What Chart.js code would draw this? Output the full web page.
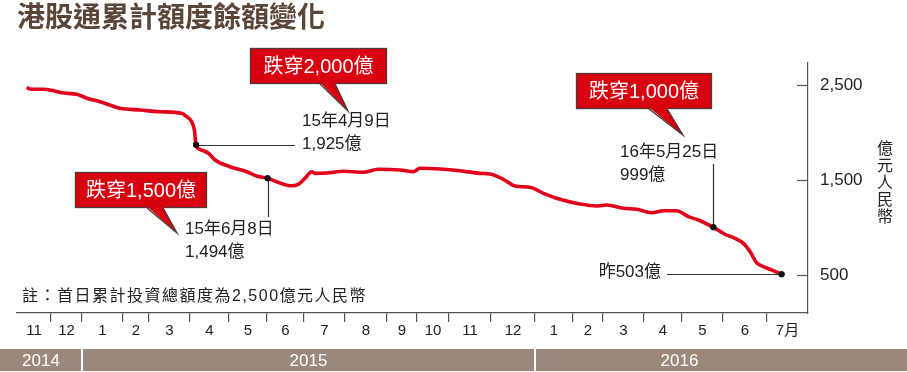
<!DOCTYPE html>
<html><head><meta charset="utf-8">
<script src="https://cdn.jsdelivr.net/npm/chart.js@4/dist/chart.umd.min.js"></script>
<style>html,body{margin:0;padding:0;background:#fff;}#wrap{width:907px;height:372px;position:relative;}</style>
</head><body><div id="wrap"><canvas id="c" width="907" height="372"></canvas></div>
<script>
// ---------- data ----------
const chartTitle = '港股通累計額度餘額變化';
const monthLabels = ['11','12','1','2','3','4','5','6','7','8','9','10','11','12','1','2','3','4','5','6','7月'];
// trading-day index of each month start (first = axis start, last = axis end)
const monthBounds = [0,17,32.5,53,66,86.5,106,125,143.5,164,185,200,216,237,259,278,293,313.5,332.5,353,375,395.5];
const yearLabels = ['2014','2015','2016'];
const yearStarts = [0,32.5,259];
const dayIdx = [4.8,7.3,13.2,17.3,22.3,29.8,35.7,41.5,51.5,61.5,71.5,82.3,84.8,87.3,88.7,89.5,91.5,95.7,99,106.5,114.8,119.8,125.3,129.8,136.5,140.7,144,147.3,149,158.2,163.2,173.2,180.7,191.5,198.2,201.5,211.5,221.5,231.5,236.5,243.2,249,256.5,263.2,271.5,281.5,289.8,294.8,303.2,309.8,317.3,323.2,329.8,335.7,340.7,348.2,354,359,363.2,366.5,369.8,373.2,377.3,382.3];
const balance = [2472,2455,2455,2444,2419,2402,2356,2324,2255,2237,2219,2202,2167,2114,2026,1872,1823,1781,1711,1640,1587,1542,1518,1482,1440,1455,1518,1587,1570,1581,1592,1581,1613,1605,1587,1623,1616,1598,1570,1563,1507,1437,1423,1360,1297,1247,1226,1237,1202,1192,1156,1177,1177,1114,1079,1002,929,886,833,746,630,588,553,507];
const yTicks = [500,1500,2500];
const markedIdx = [15,22,55,63];
const yAxisTitle = ['億','元','人','民','幣'];
const noteText = '註：首日累計投資總額度為2,500億元人民幣';
const calloutTexts = ['跌穿2,000億','跌穿1,500億','跌穿1,000億'];
const annoTexts = [['15年4月9日','1,925億'],['15年6月8日','1,494億'],['16年5月25日','999億'],['昨503億']];

// ---------- layout / style ----------
const FONT = "'Liberation Sans','Noto Sans CJK TC',sans-serif";
const RED = '#e2001a';
const BOXRED = '#d9000f';
const DARK = '#222';
const callouts = [
  {box:[250,48,137,36], ptr:[320,335,348,111]},
  {box:[75,172,132,36], ptr:[147,163,177,233]},
  {box:[576,73,136,36], ptr:[649,667,683,135]}
];

const boundSet = new Set(monthBounds.slice(1,-1));
const labelMap = new Map();
for (let i=0;i<monthLabels.length;i++) labelMap.set((monthBounds[i]+monthBounds[i+1])/2, monthLabels[i]);

const decor = {
  id:'decor',
  afterDraw(chart){
    const ctx = chart.ctx, ca = chart.chartArea;
    const xs = chart.scales.x, ys = chart.scales.y;
    const meta = chart.getDatasetMeta(0);
    ctx.save();
    // inward y ticks
    ctx.strokeStyle = '#555'; ctx.lineWidth = 1.2;
    yTicks.forEach(v=>{ const y = Math.round(ys.getPixelForValue(v))+0.5; ctx.beginPath(); ctx.moveTo(ca.right-11,y); ctx.lineTo(ca.right,y); ctx.stroke(); });
    // y axis title (vertical stacked)
    ctx.fillStyle = DARK; ctx.font = "16px 'Noto Sans CJK TC'"; ctx.textAlign='center'; ctx.textBaseline='middle';
    const yc = ys.getPixelForValue(1500)+2;
    yAxisTitle.forEach((ch,i)=> ctx.fillText(ch, 885, yc + (i-2)*17));
    // note
    ctx.textAlign='left'; ctx.font = "16px " + FONT;
    try { ctx.letterSpacing = '1.5px'; } catch(e){}
    ctx.fillText(noteText, 22, 297);
    try { ctx.letterSpacing = '0px'; } catch(e){}
    // year bar
    const edges = yearStarts.map(v=> v===0 ? 0 : xs.getPixelForValue(v)).concat([chart.width]);
    ctx.fillStyle = '#9b877b';
    for (let i=0;i<yearLabels.length;i++){
      const l = edges[i] + (i===0?0:1), r = edges[i+1] - (i===yearLabels.length-1?0:1);
      ctx.fillRect(l, 349, r-l, 22);
    }
    ctx.fillStyle = '#fff'; ctx.font = "17px 'Liberation Sans'"; ctx.textAlign='center'; ctx.textBaseline='middle';
    for (let i=0;i<yearLabels.length;i++){
      let cx = (edges[i]+edges[i+1])/2;
      if (i===yearLabels.length-1) cx = (edges[i]+ca.right)/2 + 8;
      ctx.fillText(yearLabels[i], cx, 361);
    }
    // callouts
    callouts.forEach((c,i)=>{
      const [bx,by,bw,bh] = c.box, [p1,p2,tx,ty] = c.ptr;
      ctx.fillStyle = BOXRED; ctx.strokeStyle = '#4a3b36'; ctx.lineWidth = 1.3;
      ctx.fillRect(bx,by,bw,bh); ctx.strokeRect(bx+0.5,by+0.5,bw-1,bh-1);
      ctx.beginPath(); ctx.moveTo(p1,by+bh-1.5); ctx.lineTo(tx,ty); ctx.lineTo(p2,by+bh-1.5); ctx.closePath(); ctx.fill();
      ctx.beginPath(); ctx.moveTo(p1,by+bh); ctx.lineTo(tx,ty); ctx.lineTo(p2,by+bh); ctx.stroke();
      ctx.fillStyle='#fff'; ctx.font = "20px " + FONT; ctx.textAlign='center'; ctx.textBaseline='middle';
      ctx.fillText(calloutTexts[i], bx+bw/2, by+bh/2+1);
    });
    // annotations
    const pts = markedIdx.map(i=>meta.data[i]);
    ctx.strokeStyle = '#333'; ctx.lineWidth = 1.2; ctx.fillStyle = DARK;
    ctx.font = "17px " + FONT; ctx.textAlign='left'; ctx.textBaseline='middle';
    // Apr 9 2015
    let p = pts[0];
    ctx.beginPath(); ctx.moveTo(p.x, Math.round(p.y)+0.5); ctx.lineTo(295, Math.round(p.y)+0.5); ctx.stroke();
    ctx.fillText(annoTexts[0][0], 302, p.y-23); ctx.fillText(annoTexts[0][1], 302, p.y);
    // Jun 8 2015
    p = pts[1];
    ctx.beginPath(); ctx.moveTo(Math.round(p.x)+0.5, p.y); ctx.lineTo(Math.round(p.x)+0.5, 217); ctx.stroke();
    ctx.fillText(annoTexts[1][0], 185, 229); ctx.fillText(annoTexts[1][1], 185, 252);
    // May 25 2016
    p = pts[2];
    ctx.beginPath(); ctx.moveTo(Math.round(p.x)+0.5, 164); ctx.lineTo(Math.round(p.x)+0.5, p.y); ctx.stroke();
    ctx.fillText(annoTexts[2][0], 620, 152); ctx.fillText(annoTexts[2][1], 620, 175);
    // latest
    p = pts[3];
    ctx.beginPath(); ctx.moveTo(667, Math.round(p.y)+0.5); ctx.lineTo(p.x, Math.round(p.y)+0.5); ctx.stroke();
    ctx.textAlign='right'; ctx.fillText(annoTexts[3][0], 661, p.y-2);
    // redraw dots on top
    ctx.fillStyle = '#111';
    pts.forEach(q=>{ ctx.beginPath(); ctx.arc(q.x,q.y,3,0,Math.PI*2); ctx.fill(); });
    ctx.restore();
  }
};

new Chart(document.getElementById('c'), {
  type:'line',
  data:{ datasets:[{
    data: dayIdx.map((x,i)=>({x, y: balance[i]})),
    borderColor: RED, borderWidth: 3.6, fill:false,
    cubicInterpolationMode:'monotone',
    pointRadius: (c)=> markedIdx.includes(c.dataIndex) ? 3 : 0,
    pointBackgroundColor:'#111', pointBorderWidth:0
  }]},
  options:{
    responsive:false, animation:false, devicePixelRatio:1,
    layout:{ padding:{left:17,right:0,top:0,bottom:0} },
    plugins:{
      legend:{display:false}, tooltip:{enabled:false},
      title:{ display:true, text:chartTitle, align:'start', color:'#5a4538',
        font:{family:"'Noto Sans CJK TC'", size:28, weight:'bold', lineHeight:1.2},
        padding:{top:0,bottom:29.4} }
    },
    scales:{
      x:{ type:'linear', position:'bottom', min:0, max:monthBounds[monthBounds.length-1],
        afterBuildTicks(s){
          const t = [];
          monthBounds.slice(1,-1).forEach(v=>t.push({value:v}));
          for (let i=0;i<monthLabels.length;i++) t.push({value:(monthBounds[i]+monthBounds[i+1])/2});
          t.sort((a,b)=>a.value-b.value);
          s.ticks = t;
        },
        afterFit(s){ s.height = 59; },
        grid:{ drawOnChartArea:false, drawTicks:true, tickLength:9, lineWidth:1.2,
          color:(c)=> (c.tick && boundSet.has(c.tick.value)) ? '#555' : 'rgba(0,0,0,0)' },
        border:{ display:true, color:'#555', width:1.2 },
        ticks:{ autoSkip:false, maxRotation:0, minRotation:0, padding:0, color:DARK,
          font:{family:FONT, size:15},
          callback:(v)=> labelMap.has(v) ? labelMap.get(v) : '' }
      },
      y:{ type:'linear', position:'right', min:100, max:2731.6,
        afterBuildTicks(s){ s.ticks = yTicks.map(v=>({value:v})); },
        afterFit(s){ s.width = 99; },
        grid:{ drawOnChartArea:false, drawTicks:false, tickLength:0 },
        border:{ display:true, color:'#555', width:1.2 },
        ticks:{ padding:12, color:DARK, font:{family:FONT, size:17},
          callback:(v)=> v.toLocaleString('en-US') }
      }
    }
  },
  plugins:[decor]
});
</script>
</body></html>
